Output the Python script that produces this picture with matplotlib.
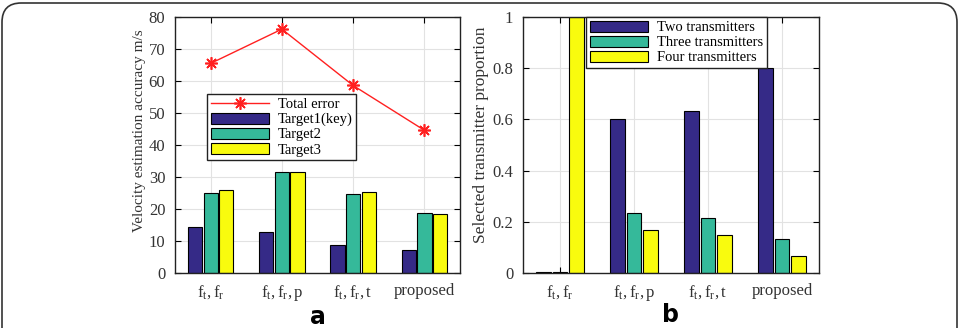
import numpy as np
import matplotlib.pyplot as plt
from matplotlib.patches import FancyBboxPatch

# Data
methods = [r'$\mathregular{f_t,f_r}$', r'$\mathregular{f_t,f_r,p}$',
           r'$\mathregular{f_t,f_r,t}$', 'proposed']
target1 = [14.5, 12.8, 8.8, 7.2]
target2 = [25.0, 31.6, 24.6, 18.7]
target3 = [25.9, 31.5, 25.2, 18.5]
total_error = [65.5, 76.2, 58.6, 44.6]

two_tx = [0.002, 0.60, 0.633, 0.80]
three_tx = [0.002, 0.233, 0.213, 0.133]
four_tx = [1.0, 0.167, 0.15, 0.067]

C1 = '#352a87'
C2 = '#35b99a'
C3 = '#f9fb0e'

plt.rcParams['font.family'] = ['Liberation Serif', 'DejaVu Serif']
plt.rcParams['mathtext.fontset'] = 'custom'
plt.rcParams['mathtext.rm'] = 'Liberation Serif'
plt.rcParams['mathtext.it'] = 'Liberation Serif'

fig = plt.figure(figsize=(9.61, 3.28), dpi=100)
ax1 = fig.add_axes([175/961, 1 - 273/328, 285/961, 256/328])
ax2 = fig.add_axes([523/961, 1 - 273/328, 296/961, 256/328])

x = np.arange(1, 5)
w = 0.2
off = 0.22
TXT = '#333333'


def style(ax):
    ax.set_xlim(0.5, 4.5)
    ax.set_xticks(x)
    ax.set_xticklabels(methods)
    ax.grid(True, color='#e2e2e2', linewidth=0.8)
    ax.set_axisbelow(True)
    ax.tick_params(direction='in', top=True, right=True, length=4,
                   labelsize=12, labelcolor=TXT, pad=7)
    for s in ax.spines.values():
        s.set_linewidth(1.0)
        s.set_color('#222222')


leg_kw = dict(fontsize=10.5, fancybox=False, edgecolor='#222222', framealpha=1,
              handlelength=4.0, handleheight=0.8, borderpad=0.25,
              labelspacing=0.1, handletextpad=0.6, borderaxespad=0)

# panel a
b1 = ax1.bar(x - off, target1, w, color=C1, edgecolor='black', linewidth=0.8)
b2 = ax1.bar(x, target2, w, color=C2, edgecolor='black', linewidth=0.8)
b3 = ax1.bar(x + off, target3, w, color=C3, edgecolor='black', linewidth=0.8)
ln, = ax1.plot(x, total_error, color='#ff2020', marker=(8, 2, 0), markersize=9,
               markeredgewidth=1.2, linewidth=1.0)
style(ax1)
ax1.set_ylim(0, 80)
ax1.set_yticks(range(0, 81, 10))
ax1.set_ylabel('Velocity estimation accuracy m/s', fontsize=11, color=TXT)
ax1.yaxis.set_label_coords(-29/285, 0.555)
leg1 = ax1.legend([ln, b1, b2, b3], ['Total error', 'Target1(key)', 'Target2', 'Target3'],
                  loc='upper left', bbox_to_anchor=(0.112, 0.70), **leg_kw)
leg1.get_frame().set_linewidth(1.0)
ax1.text(0.5, -0.125, 'a', transform=ax1.transAxes, ha='center', va='top',
         fontsize=17, fontweight='bold', family='DejaVu Sans')

# panel b
c1 = ax2.bar(x - off, two_tx, w, color=C1, edgecolor='black', linewidth=0.8)
c2 = ax2.bar(x, three_tx, w, color=C2, edgecolor='black', linewidth=0.8)
c3 = ax2.bar(x + off, four_tx, w, color=C3, edgecolor='black', linewidth=0.8)
style(ax2)
ax2.set_ylim(0, 1)
ax2.set_yticks([0, 0.2, 0.4, 0.6, 0.8, 1])
ax2.set_yticklabels(['0', '0.2', '0.4', '0.6', '0.8', '1'])
ax2.set_ylabel('Selected transmitter proportion', fontsize=12.5, color=TXT)
ax2.yaxis.set_label_coords(-34/296, 0.54)
leg2 = ax2.legend([c1, c2, c3], ['Two transmitters', 'Three transmitters', 'Four transmitters'],
                  loc='upper left', bbox_to_anchor=(0.213, 1.0), **leg_kw)
leg2.get_frame().set_linewidth(1.0)
ax2.text(0.5, -0.118, 'b', transform=ax2.transAxes, ha='center', va='top',
         fontsize=17, fontweight='bold', family='DejaVu Sans')

# rounded outer frame
frame = FancyBboxPatch((2/961, -0.2), 955/961, 1.2 - 3/328,
                       boxstyle='round,pad=0,rounding_size=0.02',
                       transform=fig.transFigure, fill=False,
                       edgecolor='#333333', linewidth=1.2, clip_on=False,
                       mutation_aspect=961/328)
fig.patches.append(frame)

fig.savefig('out.png', dpi=100)
